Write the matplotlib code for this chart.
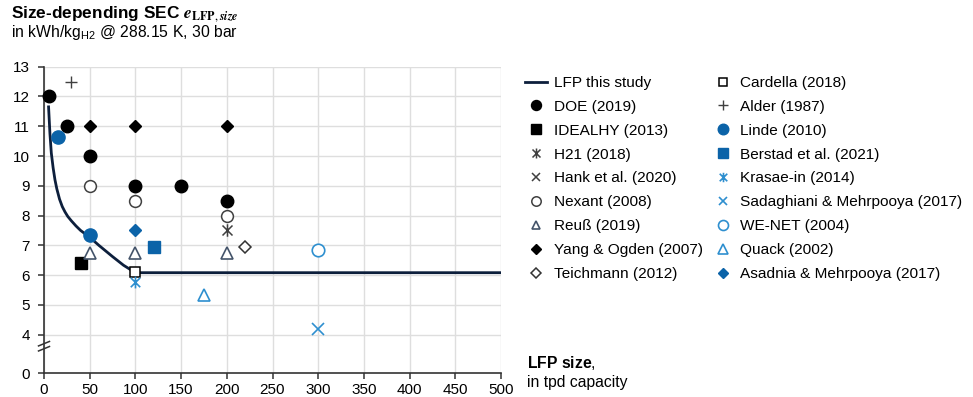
import matplotlib.pyplot as plt
from matplotlib.path import Path
from matplotlib.lines import Line2D

plt.rcParams['font.family'] = ['Liberation Sans', 'DejaVu Sans']
plt.rcParams['mathtext.fontset'] = 'custom'
plt.rcParams['mathtext.rm'] = 'Liberation Sans'
plt.rcParams['mathtext.it'] = 'Liberation Sans:italic'
plt.rcParams['mathtext.bf'] = 'Liberation Sans:bold'

# LFP curve (this study)
lfp_x = [5, 6.5, 8, 10, 12, 14, 17, 20, 23, 26, 30, 35, 40, 50, 60, 75, 87, 100, 500]
lfp_y = [11.65, 10.75, 10.1, 9.6, 9.2, 8.9, 8.55, 8.3, 8.12, 7.97, 7.82, 7.65, 7.5,
         7.27, 7.0, 6.62, 6.33, 6.08, 6.08]

# literature values
doe_x = [5, 25, 50, 100, 150, 200]
doe_y = [12, 11, 10, 9, 9, 8.5]
idealhy_x = [40]
idealhy_y = [6.4]
h21_x = [200]
h21_y = [7.5]
hank_x = []
hank_y = []
nexant_x = [50, 100, 200]
nexant_y = [9, 8.5, 8]
reuss_x = [50, 100, 200]
reuss_y = [6.75, 6.75, 6.75]
yang_x = [50, 100, 200]
yang_y = [11, 11, 11]
teich_x = [220]
teich_y = [6.93]
cardella_x = [100]
cardella_y = [6.1]
alder_x = [30]
alder_y = [12.5]
linde_x = [15, 50]
linde_y = [10.65, 7.35]
berstad_x = [120]
berstad_y = [6.95]
krasae_x = [100]
krasae_y = [5.77]
sadag_x = [300]
sadag_y = [4.2]
wenet_x = [300]
wenet_y = [6.84]
quack_x = [175]
quack_y = [5.32]
asadnia_x = [100]
asadnia_y = [7.52]

x_ticks = [0, 50, 100, 150, 200, 250, 300, 350, 400, 450, 500]
y_ticks = [4, 5, 6, 7, 8, 9, 10, 11, 12, 13]
y_zero_pos = 2.70  # where the broken axis shows "0"

navy = '#0d1f3c'
blue = '#0b63a8'
lblue = '#2e8fcf'
grey = '#404040'
slate = '#44546a'

star_x = Path([(-1, -1), (1, 1), (-1, 1), (1, -1), (0, -1.25), (0, 1.25)],
              [Path.MOVETO, Path.LINETO] * 3)

fig = plt.figure(figsize=(9.73, 3.97), dpi=100)
ax = fig.add_axes([44 / 973, 1 - 373.3 / 397, 457 / 973, (373.3 - 66.7) / 397])

ax.plot(lfp_x, lfp_y, color=navy, lw=2, label='LFP this study', zorder=3)

series = [
    (doe_x, doe_y, 'DOE (2019)', dict(marker='o', ms=9, mfc='black', mec='black')),
    (idealhy_x, idealhy_y, 'IDEALHY (2013)', dict(marker='s', ms=8.5, mfc='black', mec='black')),
    (h21_x, h21_y, 'H21 (2018)', dict(marker=star_x, ms=9, mfc='none', mec=grey, mew=1.1)),
    (hank_x, hank_y, 'Hank et al. (2020)', dict(marker='x', ms=7.5, mec=grey, mew=1.1)),
    (nexant_x, nexant_y, 'Nexant (2008)', dict(marker='o', ms=8.5, mfc='white', mec=grey, mew=1.1)),
    (reuss_x, reuss_y, 'Reuß (2019)', dict(marker='^', ms=8, mfc='white', mec=slate, mew=1.2)),
    (yang_x, yang_y, 'Yang & Ogden (2007)', dict(marker='D', ms=6, mfc='black', mec='black')),
    (teich_x, teich_y, 'Teichmann (2012)', dict(marker='D', ms=6, mfc='white', mec='#333333', mew=1.1)),
    (cardella_x, cardella_y, 'Cardella (2018)', dict(marker='s', ms=6.5, mfc='white', mec='black', mew=1.1)),
    (alder_x, alder_y, 'Alder (1987)', dict(marker='+', ms=8.5, mec=grey, mew=1.0)),
    (linde_x, linde_y, 'Linde (2010)', dict(marker='o', ms=9.5, mfc=blue, mec=blue)),
    (berstad_x, berstad_y, 'Berstad et al. (2021)', dict(marker='s', ms=9, mfc=blue, mec=blue)),
    (krasae_x, krasae_y, 'Krasae-in (2014)', dict(marker=star_x, ms=8.5, mfc='none', mec=lblue, mew=1.2)),
    (sadag_x, sadag_y, 'Sadaghiani & Mehrpooya (2017)', dict(marker='x', ms=8, mec=lblue, mew=1.2)),
    (wenet_x, wenet_y, 'WE-NET (2004)', dict(marker='o', ms=9, mfc='white', mec=lblue, mew=1.2)),
    (quack_x, quack_y, 'Quack (2002)', dict(marker='^', ms=8.5, mfc='white', mec=lblue, mew=1.2)),
    (asadnia_x, asadnia_y, 'Asadnia & Mehrpooya (2017)', dict(marker='D', ms=6, mfc=blue, mec=blue)),
]

handles = [Line2D([0], [0], color=navy, lw=2)]
labels = ['LFP this study']
for xs, ys, lab, st in series:
    ax.plot(xs, ys, ls='none', zorder=4, clip_on=False, **st)
    hst = dict(st)
    hst['ms'] = st['ms'] * 0.8
    handles.append(Line2D([0], [0], ls='none', **hst))
    labels.append(lab)

ax.set_xlim(0, 500)
ax.set_ylim(y_zero_pos, 13)
ax.set_xticks(x_ticks)
ax.set_yticks([y_zero_pos] + y_ticks)
ax.set_yticklabels(['0'] + [str(v) for v in y_ticks])
ax.grid(True, color='#dedede', lw=1)
ax.set_axisbelow(True)
ax.get_ygridlines()[0].set_visible(False)
for s in ['top', 'right']:
    ax.spines[s].set_visible(False)
for s in ['left', 'bottom']:
    ax.spines[s].set_color('#333333')
    ax.spines[s].set_linewidth(1.2)
ax.tick_params(axis='both', labelsize=11, color='#333333', length=4, width=1.1)
ax.tick_params(axis='y', pad=6)
ax.tick_params(axis='x', pad=3)

# axis break marks
for dy in (0, 0.17):
    ax.plot([-6, 6], [3.45 + dy, 3.6 + dy], color='#333333', lw=1.1, clip_on=False, zorder=5)

fig.legend(handles, labels, ncol=2, loc='upper left', bbox_to_anchor=(525 / 973, 1 - 76 / 397),
           frameon=False, fontsize=11.1, handlelength=1.4, handletextpad=0.45,
           columnspacing=0.6, labelspacing=0.64, borderaxespad=0, borderpad=0)

fig.text(11 / 973, 1 - 18 / 397,
         r'Size-depending SEC $\boldsymbol{e}_{\mathbf{LFP},\boldsymbol{size}}$',
         fontsize=12.4, fontweight='bold', va='baseline', math_fontfamily='stix')
fig.text(11 / 973, 1 - 37 / 397, r'in kWh/kg$_\mathrm{H2}$ @ 288.15 K, 30 bar',
         fontsize=11.3, va='baseline', math_fontfamily='custom')

fig.text(527 / 973, 1 - 368 / 397, r'$\mathbf{LFP\ size}$,', fontsize=11.3,
         va='baseline', math_fontfamily='custom')
fig.text(527 / 973, 1 - 387 / 397, 'in tpd capacity', fontsize=11.3, va='baseline')

fig.savefig('out.png', dpi=100)
